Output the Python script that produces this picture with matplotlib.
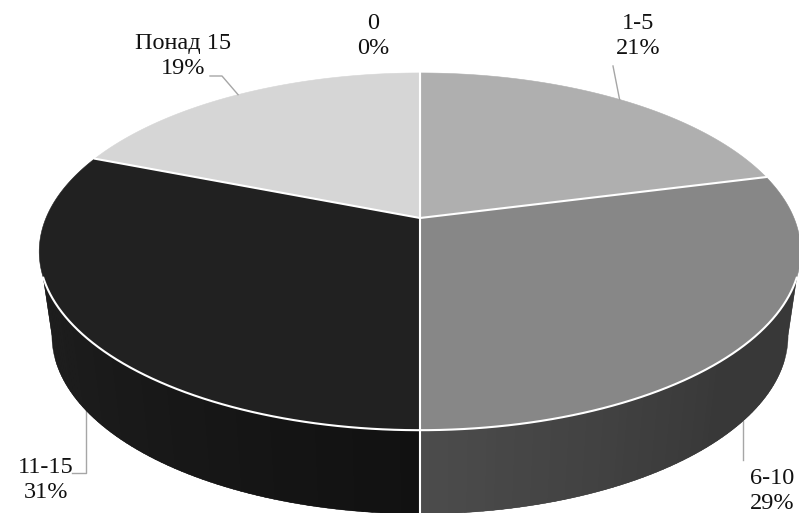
"""
3D-style pie: share of respondents per group, drawn on a pixel-sized canvas.
"""

import numpy as np
import matplotlib
matplotlib.use("Agg")
import matplotlib.pyplot as plt
from matplotlib.patches import Polygon

# ── data ──────────────────────────────────────────────────────────────────────
CATEGORIES = ["0", "1-5", "6-10", "11-15", "Понад 15"]
SHARES     = [0, 21, 29, 31, 19]
TOP_COLORS = ["#5a5a5a", "#afafaf", "#878787", "#212121", "#d6d6d6"]

# ── projection of the disc ────────────────────────────────────────────────────
W, H = 799, 513
CX = 420
PERSP = 0.188
TOP = dict(a=374.0, b=172.3, y0=218.0)
BOT = dict(a=361.5, b=172.0, y0=302.0)
# visible part of the wall: upper rim and lower rim turn away at different angles
TOP_LIMIT = np.radians(109)
BOT_LIMIT = np.radians(100.8)


def project(theta, disc):
    # theta is clockwise from 12 o'clock, radians
    u, v = np.sin(theta), np.cos(theta)
    w = 1 + PERSP * v
    return CX + disc["a"] * u / w, disc["y0"] - disc["b"] * v / w


def arc(t0, t1, disc, n=120):
    x, y = project(np.linspace(t0, t1, n), disc)
    return np.column_stack([x, y])


def clamp(t, limit):
    return min(max(t, limit), 2 * np.pi - limit)


def lerp_grey(g0, g1, f):
    g = (g0 + (g1 - g0) * min(max(f, 0.0), 1.0)) / 255
    return (g, g, g)


def side_shade(name, t):
    # walls get lighter towards the middle of the 6-10 slice front
    if name == "6-10":
        return lerp_grey(0x4c, 0x38, (np.pi - t) / np.radians(45))
    if name == "11-15":
        return lerp_grey(0x11, 0x1f, (t - np.pi) / np.radians(75))
    return (0.3, 0.3, 0.3)


fig = plt.figure(figsize=(W / 100, H / 100), dpi=100)
ax = fig.add_axes([0, 0, 1, 1])
ax.set_xlim(0, W)
ax.set_ylim(H, 0)
ax.axis("off")

fracs = np.array(SHARES) / sum(SHARES)
edges = np.concatenate([[0], np.cumsum(fracs)]) * 2 * np.pi

# ── side wall: one flat base per slice, thin strips on top for the shading ────
for name, t0, t1 in zip(CATEGORIES, edges[:-1], edges[1:]):
    if t1 <= TOP_LIMIT or t0 >= 2 * np.pi - TOP_LIMIT:
        continue
    base = side_shade(name, (t0 + t1) / 2)
    pts = np.vstack([arc(clamp(t0, TOP_LIMIT), clamp(t1, TOP_LIMIT), TOP),
                     arc(clamp(t1, BOT_LIMIT), clamp(t0, BOT_LIMIT), BOT)])
    ax.add_patch(Polygon(pts, closed=True, fc=base, ec=base, lw=0.3, zorder=1))
    steps = np.linspace(clamp(t0, TOP_LIMIT), clamp(t1, TOP_LIMIT), 60)
    for a, b in zip(steps[:-1], steps[1:]):
        c = side_shade(name, (a + b) / 2)
        # step over the seam so no light line shows between two strips
        pts = np.vstack([arc(a, b + 0.006, TOP, 3), arc(b + 0.006, a, BOT, 3)])
        ax.add_patch(Polygon(pts, closed=True, fc=c, ec="none", lw=0, zorder=1.1, snap=False))

# ── top faces ─────────────────────────────────────────────────────────────────
apex = (CX, TOP["y0"])
for col, t0, t1 in zip(TOP_COLORS, edges[:-1], edges[1:]):
    if t1 <= t0:
        continue
    pts = np.vstack([[apex], arc(t0, t1, TOP)])
    ax.add_patch(Polygon(pts, closed=True, fc=col, ec=col, lw=0.4, zorder=2))

# ── white separators ──────────────────────────────────────────────────────────
WHITE_LW = 1.5
for t in edges[:-1]:
    x, y = project(t, TOP)
    ax.plot([apex[0], x], [apex[1], y], color="white", lw=WHITE_LW, zorder=3)
rim = arc(TOP_LIMIT, 2 * np.pi - TOP_LIMIT, TOP, 200)
ax.plot(rim[:, 0], rim[:, 1], color="white", lw=WHITE_LW, zorder=3)
x0, y0 = project(np.pi, TOP)
x1, y1 = project(np.pi, BOT)
ax.plot([x0, x1], [y0, y1], color="white", lw=WHITE_LW, zorder=3)

# ── labels and leader lines ───────────────────────────────────────────────────
LABEL_POS = {"0": (373, 36), "1-5": (638, 36), "6-10": (772, 491),
             "11-15": (46, 480), "Понад 15": (183, 56)}
for name, share in zip(CATEGORIES, SHARES):
    lx, ly = LABEL_POS[name]
    ax.text(lx, ly, f"{name}\n{share}%", ha="center", va="center", fontsize=17.5,
            family="Liberation Serif", color="#111111", linespacing=1.2, zorder=5)

LEADER = "#a6a6a6"
mids = (edges[:-1] + edges[1:]) / 2
anchors = dict(zip(CATEGORIES, mids))

mx, my = project(anchors["1-5"], TOP)
ax.plot([613, mx], [66, my], color=LEADER, lw=1.0, zorder=4)

mx, my = project(anchors["Понад 15"], TOP)
ax.plot([210, 222, mx], [76, 76, my], color=LEADER, lw=1.0, zorder=4)

mx, my = project(anchors["6-10"], BOT)
ax.plot([mx, mx], [my, 460], color=LEADER, lw=1.0, zorder=0.5)

mx, my = project(anchors["11-15"], BOT)
ax.plot([mx, mx, 72], [my, 473, 473], color=LEADER, lw=1.0, zorder=0.5)

fig.savefig("out.png", dpi=100)
